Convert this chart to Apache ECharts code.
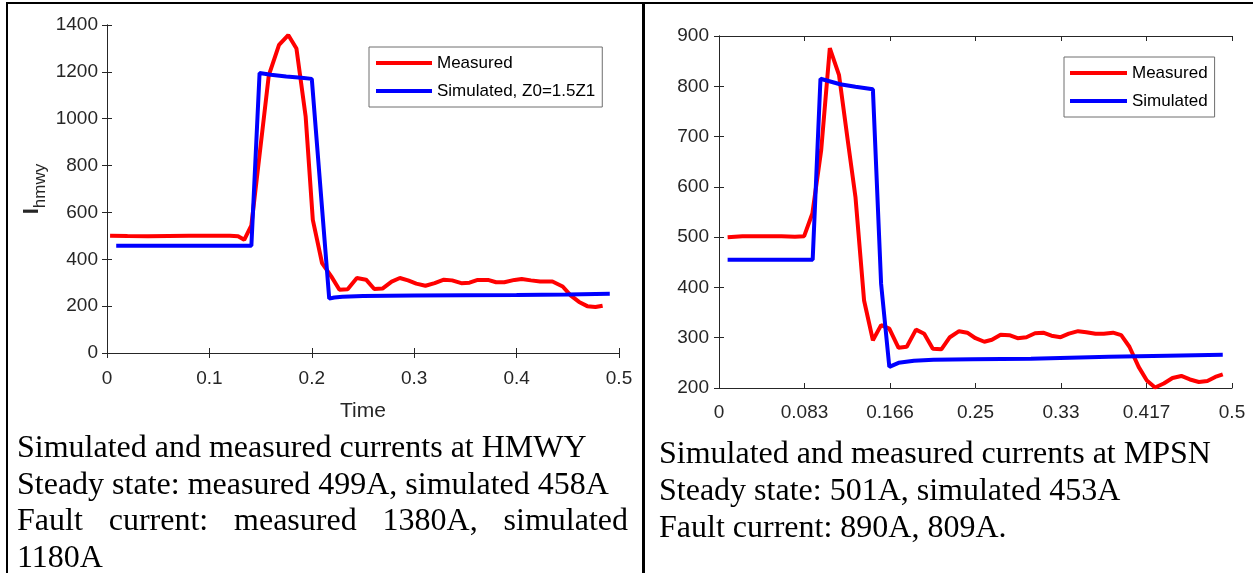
<!DOCTYPE html>
<html>
<head>
<meta charset="utf-8">
<script src="https://cdn.jsdelivr.net/npm/echarts@6/dist/echarts.min.js"></script>
<style>
  html, body { margin: 0; padding: 0; background: #fff; }
  #page { position: relative; width: 1253px; height: 573px; overflow: hidden; }
  #chart { position: absolute; left: 0; top: 0; width: 1253px; height: 573px; }
  .rule { position: absolute; background: #000; }
  .caption { position: absolute; font-family: 'Liberation Serif', 'Times New Roman', serif; font-size: 32px; color: #000; white-space: nowrap; }
  .caption div { height: 36.7px; line-height: 36.7px; }
  .justify { text-align: justify; text-align-last: justify; white-space: normal; }
</style>
</head>
<body>
<div id="page">
  <div id="chart"></div>
  <div class="rule" style="left:6px;top:2px;width:1247px;height:2px"></div>
  <div class="rule" style="left:6px;top:2px;width:2px;height:571px"></div>
  <div class="rule" style="left:642px;top:2px;width:3px;height:571px"></div>
  <div class="caption" style="left:17px;top:428px;width:611px">
    <div>Simulated and measured currents at HMWY</div>
    <div>Steady state: measured 499A, simulated 458A</div>
    <div class="justify">Fault current: measured 1380A, simulated</div>
    <div>1180A</div>
  </div>
  <div class="caption" style="left:659px;top:434px">
    <div style="height:37px;line-height:37px">Simulated and measured currents at MPSN</div>
    <div style="height:37px;line-height:37px">Steady state: 501A, simulated 453A</div>
    <div style="height:37px;line-height:37px">Fault current: 890A, 809A.</div>
  </div>
</div>
<script>
// HMWY panel: [time, current]
const hmwyMeasured = [
  [0.003, 500], [0.02, 499], [0.04, 498], [0.06, 499], [0.08, 500], [0.1, 500],
  [0.12, 500], [0.128, 498], [0.134, 483], [0.141, 545], [0.158, 1185], [0.168, 1315],
  [0.177, 1357], [0.185, 1300], [0.194, 1009], [0.201, 568], [0.21, 384], [0.219, 327],
  [0.227, 270], [0.235, 272], [0.244, 320], [0.253, 313], [0.261, 273], [0.269, 275],
  [0.278, 305], [0.286, 320], [0.294, 310], [0.302, 296], [0.311, 287], [0.32, 298],
  [0.329, 313], [0.337, 310], [0.346, 298], [0.354, 300], [0.362, 312], [0.372, 312],
  [0.38, 302], [0.388, 302], [0.398, 312], [0.405, 316], [0.414, 310], [0.423, 305],
  [0.435, 305], [0.445, 284], [0.453, 245], [0.461, 218], [0.469, 200], [0.477, 196],
  [0.484, 202]
]
const hmwySimulated = [
  [0.009, 458], [0.141, 458], [0.149, 1195], [0.16, 1188], [0.175, 1180], [0.19, 1175],
  [0.2, 1170], [0.217, 232], [0.222, 237], [0.23, 240], [0.25, 243], [0.3, 245],
  [0.35, 247], [0.4, 248], [0.45, 250], [0.491, 253]
]

// MPSN panel: [time, current]
const mpsnMeasured = [
  [0.0084, 500], [0.0228, 502], [0.038, 502], [0.061, 502], [0.074, 501], [0.083, 502],
  [0.091, 547], [0.0996, 673], [0.108, 876], [0.117, 822], [0.1255, 692], [0.133, 580],
  [0.1414, 374], [0.15, 295], [0.158, 325], [0.166, 318], [0.175, 280], [0.183, 282],
  [0.192, 316], [0.2, 308], [0.2084, 278], [0.2167, 277], [0.225, 301], [0.234, 313],
  [0.242, 310], [0.25, 299], [0.2586, 292], [0.266, 296], [0.2745, 306], [0.283, 305],
  [0.291, 299], [0.2996, 301], [0.308, 309], [0.316, 310], [0.324, 304], [0.333, 301],
  [0.341, 308], [0.35, 313], [0.358, 311], [0.367, 308], [0.375, 308], [0.384, 310],
  [0.392, 305], [0.4, 282], [0.409, 242], [0.417, 215], [0.425, 201], [0.4335, 209],
  [0.442, 220], [0.4506, 224], [0.459, 217], [0.4677, 212], [0.476, 214], [0.4837, 222],
  [0.491, 227]
]
const mpsnSimulated = [
  [0.0084, 455], [0.0913, 455], [0.0989, 815], [0.118, 804], [0.133, 799], [0.15, 794],
  [0.158, 407], [0.166, 242], [0.175, 250], [0.19, 254], [0.209, 256], [0.247, 257],
  [0.304, 258], [0.38, 262], [0.437, 264], [0.491, 266]
]

const mpsnTickValues = [0, 0.0833333, 0.1666667, 0.25, 0.3333333, 0.4166667, 0.5]
const mpsnTickLabels = ['0', '0.083', '0.166', '0.25', '0.33', '0.417', '0.5']

const legendHmwy = ['Measured', 'Simulated, Z0=1.5Z1']
const legendMpsn = ['Measured', 'Simulated']

const axisColor = '#262626'
const sansFont = 'Liberation Sans, Arial, sans-serif'
const tickFont = { fontFamily: sansFont, fontSize: 19, color: axisColor }

function plainNumber(v) {
  return String(v)
}

function boxAxis(position, gridIndex, extra) {
  // mirrored axis for the closed MATLAB-style box (ticks only)
  return Object.assign({
    type: 'value',
    gridIndex: gridIndex,
    position: position,
    axisLine: { show: true, lineStyle: { color: axisColor, width: 1 } },
    axisTick: { show: true, inside: true, length: 5, lineStyle: { color: axisColor } },
    axisLabel: { show: false },
    splitLine: { show: false }
  }, extra)
}

function mainAxis(position, gridIndex, extra, labelMargin) {
  return Object.assign({
    type: 'value',
    gridIndex: gridIndex,
    position: position,
    axisLine: { show: true, lineStyle: { color: axisColor, width: 1 } },
    axisTick: { show: true, inside: true, length: 5, lineStyle: { color: axisColor } },
    axisLabel: Object.assign({ margin: labelMargin, formatter: plainNumber }, tickFont),
    splitLine: { show: false }
  }, extra)
}

const mpsnTick = { show: true, inside: true, length: 5, lineStyle: { color: axisColor }, customValues: mpsnTickValues }

const legendText = { fontFamily: sansFont, fontSize: 17, lineHeight: 20, color: '#000' }

const chart = echarts.init(document.getElementById('chart'))

const option = {
  animation: false,
  grid: [
    { left: 107, top: 25, width: 512, height: 328 },
    { left: 719, top: 36, width: 513, height: 352 }
  ],
  legend: [
    {
      data: legendHmwy,
      orient: 'vertical',
      left: 369, top: 47,
      padding: [6, 7, 6, 7],
      itemGap: 8,
      itemWidth: 56, itemHeight: 4,
      icon: 'rect',
      selectedMode: false,
      backgroundColor: '#fff',
      borderColor: '#6e6e6e', borderWidth: 1,
      textStyle: legendText
    },
    {
      data: legendMpsn,
      orient: 'vertical',
      left: 1064, top: 57,
      padding: [6, 7, 6, 6],
      itemGap: 8,
      itemWidth: 57, itemHeight: 4,
      icon: 'rect',
      selectedMode: false,
      backgroundColor: '#fff',
      borderColor: '#6e6e6e', borderWidth: 1,
      textStyle: legendText
    }
  ],
  xAxis: [
    mainAxis('bottom', 0, {
      min: 0, max: 0.5, interval: 0.1,
      name: 'Time', nameLocation: 'middle', nameGap: 48,
      nameTextStyle: { fontFamily: sansFont, fontSize: 21, color: axisColor }
    }, 16),
    boxAxis('top', 0, { min: 0, max: 0.5, interval: 0.1 }),
    mainAxis('bottom', 1, {
      min: 0, max: 0.5,
      axisTick: mpsnTick,
      axisLabel: Object.assign({
        margin: 15,
        customValues: mpsnTickValues,
        formatter: function (v) { return mpsnTickLabels[Math.round(v * 12)] }
      }, tickFont)
    }, 15),
    boxAxis('top', 1, { min: 0, max: 0.5, axisTick: mpsnTick })
  ],
  yAxis: [
    mainAxis('left', 0, {
      min: 0, max: 1400, interval: 200,
      name: '{i|I}{s|hmwy}', nameLocation: 'middle', nameGap: 62,
      nameTextStyle: {
        color: axisColor,
        rich: {
          i: { fontFamily: sansFont, fontSize: 22, fontWeight: 'bold', color: axisColor, verticalAlign: 'top', lineHeight: 24 },
          s: { fontFamily: sansFont, fontSize: 17, color: axisColor, verticalAlign: 'top', lineHeight: 24, padding: [11, 0, 0, 0] }
        }
      }
    }, 9),
    boxAxis('right', 0, { min: 0, max: 1400, interval: 200 }),
    mainAxis('left', 1, { min: 200, max: 900, interval: 100 }, 10),
    boxAxis('right', 1, { min: 200, max: 900, interval: 100 })
  ],
  series: [
    {
      name: 'Measured', type: 'line', xAxisIndex: 0, yAxisIndex: 0,
      data: hmwyMeasured, showSymbol: false, color: '#ff0000',
      lineStyle: { width: 4, color: '#ff0000' }
    },
    {
      name: 'Simulated, Z0=1.5Z1', type: 'line', xAxisIndex: 0, yAxisIndex: 0,
      data: hmwySimulated, showSymbol: false, color: '#0000ff',
      lineStyle: { width: 4, color: '#0000ff' }
    },
    {
      name: 'Measured', type: 'line', xAxisIndex: 2, yAxisIndex: 2,
      data: mpsnMeasured, showSymbol: false, color: '#ff0000',
      lineStyle: { width: 4, color: '#ff0000' }
    },
    {
      name: 'Simulated', type: 'line', xAxisIndex: 2, yAxisIndex: 2,
      data: mpsnSimulated, showSymbol: false, color: '#0000ff',
      lineStyle: { width: 4, color: '#0000ff' }
    }
  ]
}

chart.setOption(option)
</script>
</body>
</html>
